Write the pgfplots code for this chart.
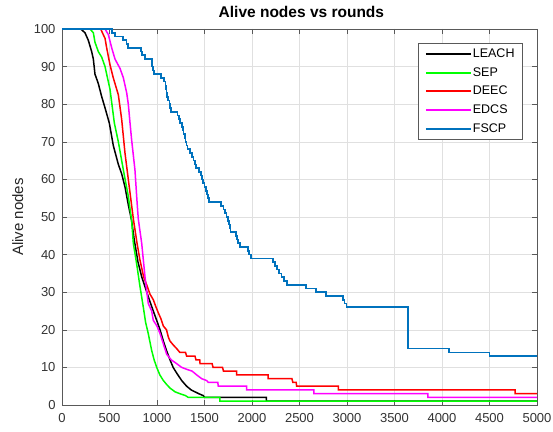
\documentclass[border=0pt]{standalone}
\usepackage{fontspec}
\setmainfont{Liberation Sans}
\usepackage{pgfplots}
\pgfplotsset{compat=1.18}
\definecolor{mblue}{rgb}{0,0.447,0.741}
\begin{document}
\begin{tikzpicture}
\useasboundingbox (0,0) rectangle (553bp,432bp);
\begin{axis}[
  at={(62bp,27bp)}, anchor=south west,
  scale only axis, width=475bp, height=376bp,
  xmin=0, xmax=5000, ymin=0, ymax=100,
  xtick={0,500,...,5000}, ytick={0,10,...,100},
  scaled x ticks=false,
  /pgf/number format/assume math mode=true,
  /pgf/number format/set thousands separator={},
  ticklabel style={font=\fontsize{13bp}{15bp}\selectfont, color=black!80},
  xticklabel style={yshift=-5bp},
  yticklabel style={xshift=-3bp},
  tick align=inside, major tick length=5bp,
  tick style={color=black!65, line width=0.5bp},
  axis line style={color=black!65, line width=0.6bp},
  grid=major, major grid style={color=black!12, line width=0.5bp},
  every axis title shift=0pt,
  title={Alive nodes vs rounds},
  title style={font=\bfseries\fontsize{15.5bp}{18bp}\selectfont, at={(axis description cs:0.504,1.045)}, anchor=center},
  ylabel={Alive nodes},
  ylabel style={font=\fontsize{15bp}{18bp}\selectfont, at={(axis description cs:-0.093,0.5)}, anchor=center, color=black!85},
  legend style={at={(axis description cs:0.970,0.962)}, anchor=north east,
    draw=black!65, font=\fontsize{12.5bp}{14bp}\selectfont,
    inner xsep=7bp, inner ysep=3.5bp, row sep=4.7bp,
    nodes={inner sep=1bp, text height=9.5bp, text depth=2.5bp}},
  legend cell align=left,
  legend image code/.code={\draw[#1, line width=1.8bp] (0bp,0bp) -- (45bp,0bp);},
  every axis plot/.append style={line width=1.5bp, mark=none},
]
\addplot[black] coordinates {(0,100)(197,100)(242,99)(277,97)(312,94)(330,92)(347,88)(382,85.5)(418,82)(453,79)(498,75)(540,69)(593,64)(628,61.5)(663,58)(700,53)(733,49)(760,44)(800,38)(840,34)(880,31)(926,27.5)(961,25)(997,22.5)(1032,20)(1067,17)(1100,14.5)(1137,12)(1170,10)(1207,8.5)(1260,6.5)(1312,5)(1360,4)(1400,3.5)(1440,3)(1487,2.5)(1500,2)(2150,2)(2150,1)(5000,1)};
\addlegendentry{LEACH}
\addplot[color={rgb,1:red,0;green,1;blue,0}] coordinates {(0,100)(295,100)(330,99)(347,96.5)(382,94)(418,92.5)(453,90)(470,88)(505,84)(523,80.5)(551,75)(593,70)(646,62.5)(698,55.5)(733,49)(751,43)(786,37.5)(821,31.5)(856,26)(880,22)(908,19)(944,14.5)(970,12)(997,10)(1030,8)(1067,6.5)(1100,5.5)(1137,4.5)(1190,3.5)(1242,3)(1300,2.5)(1330,2)(1663,2)(1663,1)(5000,1)};
\addlegendentry{SEP}
\addplot[color={rgb,1:red,1;green,0;blue,0}] coordinates {(0,100)(407,100)(453,97.5)(470,95)(505,90.5)(540,87)(593,82.5)(628,76)(663,67)(698,60)(751,49.5)(790,43)(821,38.5)(860,34)(891,32)(926,29.5)(961,28)(990,26)(1014,24.5)(1040,23)(1067,21)(1100,20)(1120,18)(1137,17)(1170,16)(1207,15)(1240,14)(1300,14)(1312,13)(1400,13)(1410,12)(1450,12)(1453,11)(1580,11)(1590,10)(1690,10)(1700,9)(1839,9)(1839,8)(2170,8)(2170,7)(2420,7)(2430,6)(2465,6)(2470,5)(2910,5)(2910,4)(4770,4)(4770,3)(5000,3)};
\addlegendentry{DEEC}
\addplot[color={rgb,1:red,1;green,0;blue,1}] coordinates {(0,100)(453,100)(488,98.5)(523,95)(558,92)(611,89.5)(646,87)(681,83)(698,80)(716,75)(733,70.5)(768,62.5)(790,54)(803,49.5)(839,43)(874,34)(908,27)(944,25)(961,22.5)(1000,21)(1032,19)(1070,16)(1102,13.5)(1150,12)(1207,11)(1260,10)(1312,9.5)(1370,9)(1418,8)(1470,7)(1523,6.5)(1540,6)(1640,6)(1645,5)(1944,5)(1944,4)(2650,4)(2650,3)(3850,3)(3850,2)(5000,2)};
\addlegendentry{EDCS}
\addplot[mblue, const plot, line width=1.7bp] coordinates {(0,100)(523,99)(560,98)(640,97)(680,96)(695,95)(830,94)(840,93)(870,92)(950,90)(960,89)(965,88)(1040,87)(1070,86)(1090,85)(1095,84)(1100,83)(1105,82)(1115,81)(1130,80)(1137,79)(1150,78)(1215,77)(1235,76)(1245,75)(1260,74)(1270,73)(1280,72)(1295,71)(1300,70)(1310,69)(1320,68)(1350,67)(1365,66)(1385,65)(1400,64)(1410,63)(1440,62)(1460,61)(1475,60)(1487,59)(1500,58)(1515,57)(1525,56)(1535,55)(1545,54)(1670,53)(1700,52)(1715,51)(1730,50)(1745,49)(1755,48)(1765,47)(1775,46)(1830,45)(1840,44)(1850,43)(1870,42)(1955,41)(1970,40)(1990,39)(2220,38)(2245,37)(2260,36)(2285,35)(2310,34)(2340,33)(2370,32)(2570,31)(2675,30)(2780,29)(2960,28)(2975,27)(2995,26)(3640,15)(4070,14)(4500,13)(5000,13)};
\addlegendentry{FSCP}
\end{axis}
\end{tikzpicture}
\end{document}
